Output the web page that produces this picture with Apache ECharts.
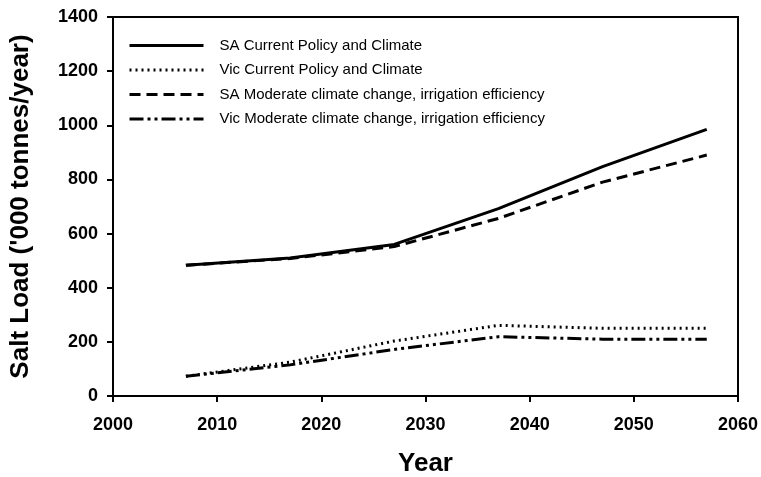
<!DOCTYPE html>
<html>
<head>
<meta charset="utf-8">
<script src="https://cdn.jsdelivr.net/npm/echarts@6/dist/echarts.min.js"></script>
<style>
  html, body { margin: 0; padding: 0; background: #fff; }
  #chart { width: 761px; height: 477px; }
</style>
</head>
<body>
<div id="chart"></div>
<script>
const years = [2007, 2017, 2027, 2037, 2047, 2057];
const saCurrent = [483, 510, 560, 692, 847, 985];
const vicCurrent = [73, 125, 203, 261, 250, 250];
const saModerate = [483, 508, 552, 656, 790, 890];
const vicModerate = [73, 115, 172, 219, 210, 210];

const seriesNames = [
  "SA Current Policy and Climate",
  "Vic Current Policy and Climate",
  "SA Moderate climate change, irrigation efficiency",
  "Vic Moderate climate change, irrigation efficiency",
];

const pairs = (vals) => years.map((y, i) => [y, vals[i]]);

const font = "Liberation Sans, Arial, sans-serif";

const line = (name, vals, type) => ({
  name: name,
  type: "line",
  data: pairs(vals),
  symbol: "none",
  smooth: false,
  lineStyle: { color: "#000", width: 3, type: type },
  itemStyle: { color: "#000" },
});

const chart = echarts.init(document.getElementById("chart"));
chart.setOption({
  animation: false,
  backgroundColor: "#fff",
  grid: { left: 113, right: 23, top: 17, bottom: 81, outerBoundsMode: "none" },
  legend: {
    orient: "vertical",
    left: 123,
    top: 33,
    itemWidth: 74,
    itemHeight: 14,
    itemGap: 9.5,
    itemStyle: { opacity: 0 },
    lineStyle: { width: 3 },
    textStyle: { fontFamily: font, fontSize: 15, color: "#000", padding: [0, 0, 0, 11] },
    data: seriesNames,
  },
  xAxis: {
    type: "value",
    min: 2000,
    max: 2060,
    interval: 10,
    name: "Year",
    nameLocation: "middle",
    nameGap: 55,
    nameTextStyle: { fontFamily: font, fontSize: 26, fontWeight: "bold", color: "#000" },
    axisLine: { lineStyle: { color: "#000", width: 2 } },
    axisTick: { show: true, length: 6, lineStyle: { color: "#000", width: 2 } },
    axisLabel: { fontFamily: font, fontSize: 18, fontWeight: "bold", color: "#000", margin: 20, formatter: (v) => String(v) },
    splitLine: { show: false },
  },
  yAxis: {
    type: "value",
    min: 0,
    max: 1400,
    interval: 200,
    name: "Salt Load ('000 tonnes/year)",
    nameLocation: "middle",
    nameGap: 79,
    nameTextStyle: { fontFamily: font, fontSize: 26, fontWeight: "bold", color: "#000" },
    axisLine: { show: true, lineStyle: { color: "#000", width: 2 } },
    axisTick: { show: true, length: 6, lineStyle: { color: "#000", width: 2 } },
    axisLabel: { fontFamily: font, fontSize: 18, fontWeight: "bold", color: "#000", margin: 15, formatter: (v) => String(v) },
    splitLine: { show: false },
  },
  graphic: [
    {
      type: "polyline",
      shape: { points: [[113, 17], [738, 17], [738, 396]] },
      style: { stroke: "#000", lineWidth: 2, fill: null },
      z: 10,
    },
  ],
  series: [
    line(seriesNames[0], saCurrent, "solid"),
    line(seriesNames[1], vicCurrent, [2, 4]),
    line(seriesNames[2], saModerate, [11, 6]),
    line(seriesNames[3], vicModerate, [14, 4, 3, 4, 3, 4]),
  ],
});
</script>
</body>
</html>
